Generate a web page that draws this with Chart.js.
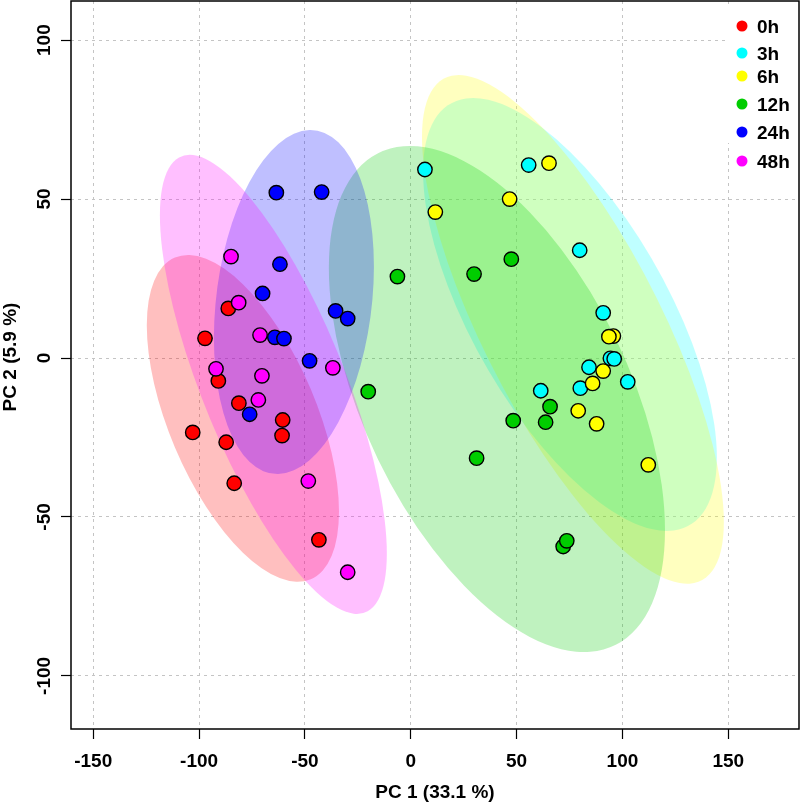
<!doctype html>
<html lang="en">
<head>
<meta charset="utf-8">
<title>PCA scores by time point</title>
<script src="https://cdn.jsdelivr.net/npm/chart.js"></script>
<style>
  html,body{margin:0;padding:0;background:#fff}
  #wrap{width:800px;height:802px}
</style>
</head>
<body>
<div id="wrap"><canvas id="pca" width="800" height="802"></canvas></div>
<script>
/* ---------- data ------------------------------------------------------ */
const groups = ['0h','3h','6h','12h','24h','48h'];
const colors = ['#FF0000','#00FFFF','#FFFF00','#00CD00','#0000FF','#FF00FF'];
const fills  = ['rgba(255,0,0,0.25)','rgba(0,255,255,0.25)','rgba(255,255,0,0.25)',
                'rgba(0,205,0,0.25)','rgba(0,0,255,0.25)','rgba(255,0,255,0.25)'];

const pc1_0h  = [-97.2,-86.2,-90.9,-81.2,-60.5,-60.8,-103.0,-87.2,-83.4,-43.4];
const pc2_0h  = [  6.2, 15.6, -7.2,-14.2,-19.5,-24.4, -23.4,-26.5,-39.4,-57.2];
const pc1_3h  = [  6.7, 55.7, 79.8, 90.9, 94.3, 96.1, 84.2,102.5, 80.1, 61.4];
const pc2_3h  = [ 59.3, 60.7, 33.9, 14.2, -0.1, -0.3, -2.9, -7.5, -9.5,-10.3];
const pc1_6h  = [ 65.3, 46.7, 11.6, 95.7, 93.6, 90.9, 85.9, 79.1, 87.8,112.2];
const pc2_6h  = [ 61.3, 50.0, 45.9,  6.9,  6.7, -4.1, -8.0,-16.6,-20.7,-33.6];
const pc1_12h = [ -6.3, 29.9, 47.5,-20.1, 48.4, 65.8, 63.7, 31.1, 72.0, 73.7];
const pc2_12h = [ 25.6, 26.4, 31.1,-10.6,-19.7,-15.3,-20.2,-31.5,-59.3,-57.5];
const pc1_24h = [-63.5,-42.1,-61.8,-70.0,-35.5,-29.8,-64.2,-59.9,-47.8,-76.1];
const pc2_24h = [ 52.0, 52.2, 29.5, 20.3, 14.8, 12.4,  6.5,  6.1, -0.9,-17.7];
const pc1_48h = [-84.9,-81.3,-71.2,-92.0,-70.3,-36.8,-72.0,-48.4,-29.8];
const pc2_48h = [ 31.9, 17.4,  7.2, -3.4, -5.6, -3.1,-13.2,-38.7,-67.4];

/* group ellipses: centre, half-extent along each axis, correlation */
const ellCx = [-79.3, 75.2, 76.6, 40.7,-55.2,-64.9];
const ellCy = [-19.0, 13.7,  9.0,-12.9, 17.6, -8.3];
const ellRx = [ 45.4, 69.4, 71.3, 79.4, 37.8, 53.6];
const ellRy = [ 51.4, 68.1, 80.0, 79.6, 54.1, 72.2];
const ellR  = [-0.57,-0.66,-0.757,-0.518,0.207,-0.737];

const xTicks = [-150,-100,-50,0,50,100,150];
const yTicks = [-100,-50,0,50,100];
const xTitle = 'PC 1 (33.1 %)';
const yTitle = 'PC 2 (5.9 %)';

/* ---------- helpers --------------------------------------------------- */
const FONT = 'bold 19px "Liberation Sans", Arial, sans-serif';
const pc1 = [pc1_0h,pc1_3h,pc1_6h,pc1_12h,pc1_24h,pc1_48h];
const pc2 = [pc2_0h,pc2_3h,pc2_6h,pc2_12h,pc2_24h,pc2_48h];

const datasets = groups.map((g,i)=>({
  label:g,
  data:pc1[i].map((x,j)=>({x, y:pc2[i][j]})),
  backgroundColor:colors[i],
  borderColor:'#000',
  borderWidth:1.4,
  pointRadius:7.2,
  pointHoverRadius:7.2,
  order:groups.length-1-i
}));

/* ---------- plugins --------------------------------------------------- */
const ellipsePlugin={
  id:'ellipses',
  beforeDatasetsDraw(chart){
    const {ctx,chartArea:a,scales:{x:xs,y:ys}}=chart;
    ctx.save();
    ctx.beginPath(); ctx.rect(a.left,a.top,a.right-a.left,a.bottom-a.top); ctx.clip();
    groups.forEach((g,i)=>{
      const px=xs.getPixelForValue(ellCx[i]), py=ys.getPixelForValue(ellCy[i]);
      const kx=xs.getPixelForValue(ellCx[i]+1)-px, ky=ys.getPixelForValue(ellCy[i]+1)-py;
      const r=ellR[i];
      ctx.save();
      ctx.transform(kx*ellRx[i], ky*ellRy[i]*r, 0, ky*ellRy[i]*Math.sqrt(1-r*r), px, py);
      ctx.beginPath(); ctx.arc(0,0,1,0,Math.PI*2);
      ctx.restore();
      ctx.fillStyle=fills[i];
      ctx.fill();
    });
    ctx.restore();
  }
};

const framePlugin={
  id:'frame',
  afterDraw(chart){
    const {ctx,chartArea:a,scales:{x:xs,y:ys}}=chart;
    ctx.save();
    ctx.fillStyle='#000';
    ctx.font=FONT;
    /* tick labels */
    ctx.textAlign='center'; ctx.textBaseline='alphabetic';
    xTicks.forEach(v=>ctx.fillText(String(v), xs.getPixelForValue(v), 767));
    yTicks.forEach(v=>{
      ctx.save(); ctx.translate(50, ys.getPixelForValue(v)); ctx.rotate(-Math.PI/2);
      ctx.fillText(String(v),0,0); ctx.restore();
    });
    /* axis titles */
    ctx.fillText(xTitle,(a.left+a.right)/2,798);
    ctx.save(); ctx.translate(16,357); ctx.rotate(-Math.PI/2);
    ctx.fillText(yTitle,0,0); ctx.restore();
    /* legend */
    ctx.fillStyle='#fff';
    ctx.fillRect(727,5,a.right-727,138);
    const ly=[26,53,76,104,132,161];
    ctx.textAlign='left';
    groups.forEach((g,i)=>{
      ctx.fillStyle=colors[i];
      ctx.beginPath(); ctx.arc(742,ly[i],5.5,0,Math.PI*2); ctx.fill();
      ctx.fillStyle='#000';
      ctx.fillText(g,757,ly[i]+7);
    });
    /* box */
    ctx.strokeStyle='#000'; ctx.lineWidth=1.5;
    ctx.strokeRect(a.left,a.top,a.right-a.left,a.bottom-a.top);
    ctx.restore();
  }
};

/* ---------- chart ----------------------------------------------------- */
const gridOpts={color:'#c4c4c4',lineWidth:1,drawTicks:true,tickLength:10,tickColor:'#000',tickWidth:1.2};
new Chart(document.getElementById('pca'),{
  type:'scatter',
  data:{datasets},
  options:{
    responsive:false,
    animation:false,
    devicePixelRatio:1,
    events:[],
    layout:{autoPadding:false,padding:{left:0,right:1,top:1,bottom:0}},
    plugins:{legend:{display:false},tooltip:{enabled:false}},
    scales:{
      x:{type:'linear',min:-160.5,max:183.4,
         afterBuildTicks:s=>{s.ticks=xTicks.map(v=>({value:v}));},
         afterFit:s=>{s.height=73;},
         grid:gridOpts,border:{display:false,dash:[3,4]},
         ticks:{display:false}},
      y:{type:'linear',min:-116.7,max:112.3,
         afterBuildTicks:s=>{s.ticks=yTicks.map(v=>({value:v}));},
         afterFit:s=>{s.width=71;},
         grid:gridOpts,border:{display:false,dash:[3,4]},
         ticks:{display:false}}
    }
  },
  plugins:[ellipsePlugin,framePlugin]
});
</script>
</body>
</html>
